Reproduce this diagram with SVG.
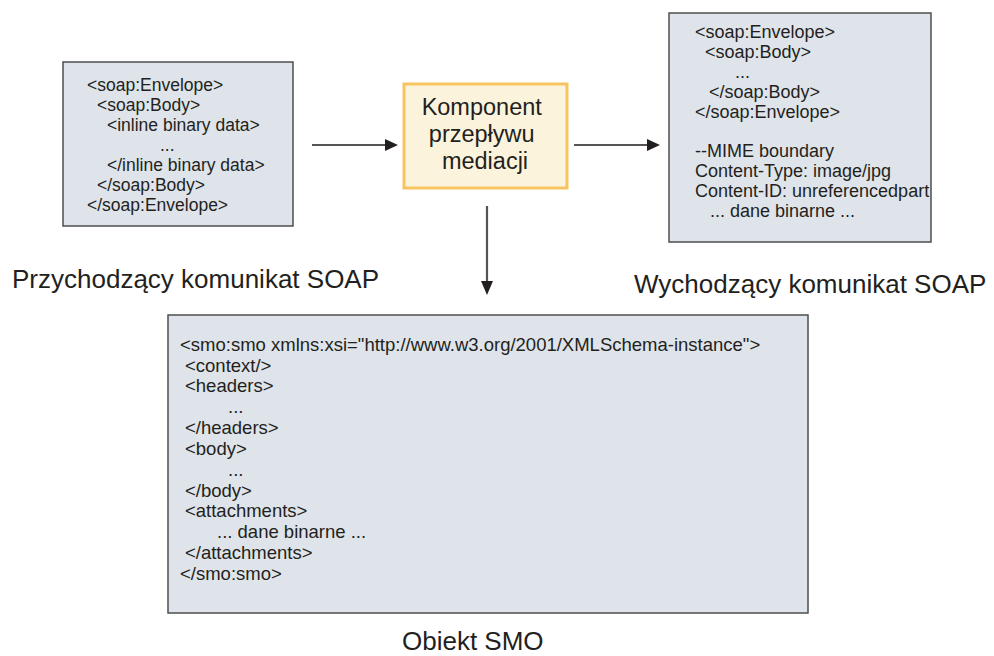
<svg xmlns="http://www.w3.org/2000/svg" width="994" height="656" viewBox="0 0 994 656">
<defs>
<style>
.box{fill:#dfe4ea;stroke:#4d4d4d;stroke-width:1.5}
.comp{fill:#fcf3dc;stroke:#f6c561;stroke-width:3}
.code{font-family:"Liberation Sans",Arial,sans-serif;font-size:17.5px;fill:#231f20}
.code2{font-family:"Liberation Sans",Arial,sans-serif;font-size:18px;fill:#231f20}
.code3{font-family:"Liberation Sans",Arial,sans-serif;font-size:18.5px;fill:#231f20}
.comptxt{font-family:"Liberation Sans",Arial,sans-serif;font-size:23.5px;fill:#231f20;text-anchor:middle}
.label{font-family:"Liberation Sans",Arial,sans-serif;font-size:26px;fill:#231f20}
.conn{stroke:#555;stroke-width:2.2;fill:none}
.head{fill:#231f20}
</style>
</defs>
<rect width="994" height="656" fill="#ffffff"/>
<g id="incoming">
<rect class="box" x="63" y="62" width="230" height="164"/>
<text class="code">
<tspan x="87" y="91">&lt;soap:Envelope&gt;</tspan>
<tspan x="97" y="111">&lt;soap:Body&gt;</tspan>
<tspan x="107" y="131">&lt;inline binary data&gt;</tspan>
<tspan x="160" y="151">...</tspan>
<tspan x="107" y="171">&lt;/inline binary data&gt;</tspan>
<tspan x="97" y="191">&lt;/soap:Body&gt;</tspan>
<tspan x="87" y="211">&lt;/soap:Envelope&gt;</tspan>
</text>
<text class="label" x="12" y="288">Przychodzący komunikat SOAP</text>
</g>
<g id="mediation">
<rect class="comp" x="404" y="84" width="163" height="104"/>
<text class="comptxt">
<tspan x="485" y="115">Komponent</tspan>
<tspan x="485" y="142">przepływu</tspan>
<tspan x="485" y="169">mediacji</tspan>
</text>
</g>
<g id="outgoing">
<rect class="box" x="669" y="13" width="262" height="229"/>
<text class="code2">
<tspan x="695" y="38">&lt;soap:Envelope&gt;</tspan>
<tspan x="705" y="58">&lt;soap:Body&gt;</tspan>
<tspan x="735" y="78">...</tspan>
<tspan x="709" y="98">&lt;/soap:Body&gt;</tspan>
<tspan x="695" y="118">&lt;/soap:Envelope&gt;</tspan>
<tspan x="695" y="157">--MIME boundary</tspan>
<tspan x="695" y="177">Content-Type: image/jpg</tspan>
<tspan x="695" y="197">Content-ID: unreferencedpart</tspan>
<tspan x="710" y="217">... dane binarne ...</tspan>
</text>
<text class="label" x="634" y="293">Wychodzący komunikat SOAP</text>
</g>
<g id="smo">
<rect class="box" x="168" y="315" width="640" height="298"/>
<text class="code3">
<tspan x="180" y="351">&lt;smo:smo xmlns:xsi="http://www.w3.org/2001/XMLSchema-instance"&gt;</tspan>
<tspan x="185" y="372">&lt;context/&gt;</tspan>
<tspan x="185" y="392">&lt;headers&gt;</tspan>
<tspan x="228" y="413">...</tspan>
<tspan x="185" y="434">&lt;/headers&gt;</tspan>
<tspan x="185" y="455">&lt;body&gt;</tspan>
<tspan x="228" y="476">...</tspan>
<tspan x="185" y="497">&lt;/body&gt;</tspan>
<tspan x="185" y="517">&lt;attachments&gt;</tspan>
<tspan x="217" y="538">... dane binarne ...</tspan>
<tspan x="185" y="559">&lt;/attachments&gt;</tspan>
<tspan x="180" y="580">&lt;/smo:smo&gt;</tspan>
</text>
<text class="label" x="402" y="650">Obiekt SMO</text>
</g>
<g id="connectors">
<line class="conn" x1="312" y1="145" x2="388" y2="145"/>
<polygon class="head" points="385,139 398,145 385,151"/>
<line class="conn" x1="574" y1="145" x2="650" y2="145"/>
<polygon class="head" points="647,139 660,145 647,151"/>
<line class="conn" x1="487" y1="206" x2="487" y2="284"/>
<polygon class="head" points="481,281 487,295 493,281"/>
</g>
</svg>
